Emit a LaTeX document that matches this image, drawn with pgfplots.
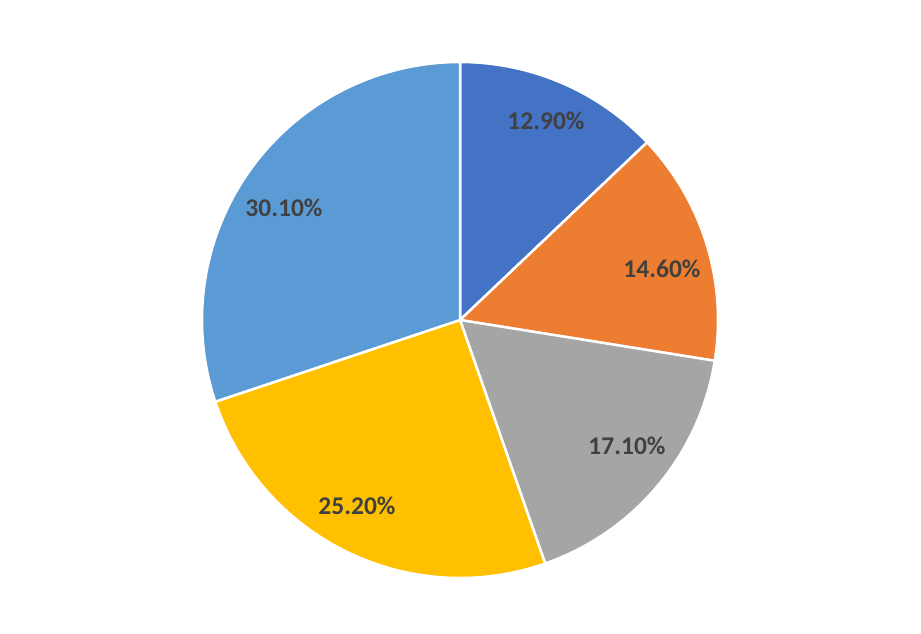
\documentclass[border=0pt]{standalone}
\usepackage{fontspec}
\setmainfont{Carlito}
\usepackage{pgfplots}
\pgfplotsset{compat=1.18}
\definecolor{s1}{HTML}{4472C4}
\definecolor{s2}{HTML}{ED7D31}
\definecolor{s3}{HTML}{A5A5A5}
\definecolor{s4}{HTML}{FFC000}
\definecolor{s5}{HTML}{5B9BD5}
\definecolor{lbl}{HTML}{404040}
% slice values (percent)
\def\vA{12.9}\def\vB{14.6}\def\vC{17.1}\def\vD{25.2}\def\vE{30.1}
\pgfmathsetmacro{\tot}{\vA+\vB+\vC+\vD+\vE}
\pgfmathsetmacro{\aO}{90}
\pgfmathsetmacro{\aA}{\aO-\vA*360/\tot}
\pgfmathsetmacro{\aB}{\aA-\vB*360/\tot}
\pgfmathsetmacro{\aC}{\aB-\vC*360/\tot}
\pgfmathsetmacro{\aD}{\aC-\vD*360/\tot}
\pgfmathsetmacro{\aE}{\aD-\vE*360/\tot}
\def\cx{460}\def\cy{314}\def\rr{258}
\tikzset{lab/.style={font=\fontsize{25.5bp}{30bp}\selectfont\bfseries, text=lbl, inner sep=0pt}}
\begin{document}
\begin{tikzpicture}
\begin{axis}[
  hide axis, scale only axis,
  width=921bp, height=634bp,
  xmin=0, xmax=921, ymin=0, ymax=634,
  clip=false,
]
\addplot[draw=none] coordinates {(0,0) (921,634)};
\addplot[fill=s1, draw=white, line width=2.5bp, domain=\aA:\aO, samples=60, variable=\t]
  ({\cx+\rr*cos(\t)},{\cy+\rr*sin(\t)}) -- (axis cs:\cx,\cy) -- cycle;
\addplot[fill=s2, draw=white, line width=2.5bp, domain=\aB:\aA, samples=60, variable=\t]
  ({\cx+\rr*cos(\t)},{\cy+\rr*sin(\t)}) -- (axis cs:\cx,\cy) -- cycle;
\addplot[fill=s3, draw=white, line width=2.5bp, domain=\aC:\aB, samples=60, variable=\t]
  ({\cx+\rr*cos(\t)},{\cy+\rr*sin(\t)}) -- (axis cs:\cx,\cy) -- cycle;
\addplot[fill=s4, draw=white, line width=2.5bp, domain=\aD:\aC, samples=80, variable=\t]
  ({\cx+\rr*cos(\t)},{\cy+\rr*sin(\t)}) -- (axis cs:\cx,\cy) -- cycle;
\addplot[fill=s5, draw=white, line width=2.5bp, domain=\aE:\aD, samples=90, variable=\t]
  ({\cx+\rr*cos(\t)},{\cy+\rr*sin(\t)}) -- (axis cs:\cx,\cy) -- cycle;
\node[lab] at (axis cs:546,513) {12.90\%};
\node[lab] at (axis cs:662,365) {14.60\%};
\node[lab] at (axis cs:627,188) {17.10\%};
\node[lab] at (axis cs:357,128) {25.20\%};
\node[lab] at (axis cs:284,426) {30.10\%};
\end{axis}
\end{tikzpicture}
\end{document}
